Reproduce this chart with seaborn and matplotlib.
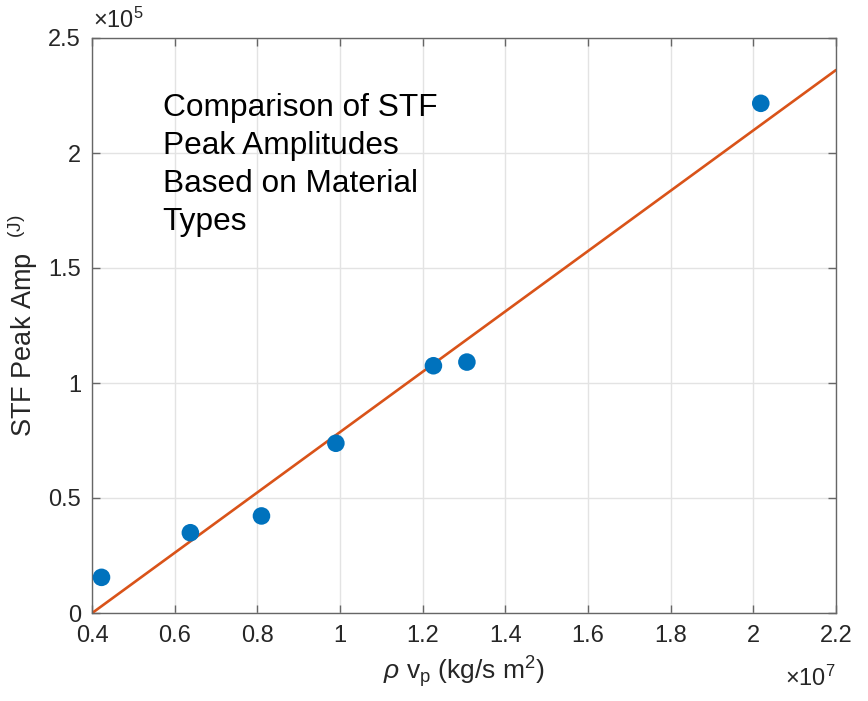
import matplotlib
matplotlib.use("Agg")
import matplotlib.pyplot as plt
import seaborn as sns
import pandas as pd
from matplotlib.ticker import FuncFormatter, FixedLocator

# Data (x: rho*vp in kg/(s m^2); y: STF peak amplitude in J)
impedance = [0.423e7, 0.638e7, 0.810e7, 0.990e7, 1.226e7, 1.307e7, 2.018e7]
peak_amp = [0.155e5, 0.349e5, 0.422e5, 0.738e5, 1.075e5, 1.091e5, 2.216e5]
x_ticks = [0.4, 0.6, 0.8, 1.0, 1.2, 1.4, 1.6, 1.8, 2.0, 2.2]
y_ticks = [0, 0.5, 1, 1.5, 2, 2.5]
annotation = "Comparison of STF\nPeak Amplitudes\nBased on Material\nTypes"

df = pd.DataFrame({"x": impedance, "y": peak_amp})

sns.set_theme(style="white")
plt.rcParams["font.family"] = ["Liberation Sans", "DejaVu Sans"]
plt.rcParams["mathtext.fontset"] = "custom"
plt.rcParams["mathtext.rm"] = "Liberation Sans"
plt.rcParams["mathtext.it"] = "Liberation Sans:italic"
plt.rcParams["mathtext.cal"] = "Liberation Sans"

fig = plt.figure(figsize=(8.68, 7.01), dpi=100)
ax = fig.add_axes([92 / 868, 1 - 613 / 701, (836 - 92) / 868, (613 - 38) / 701])

ax.set_xlim(0.4e7, 2.2e7)
ax.set_ylim(0, 2.5e5)

sns.regplot(data=df, x="x", y="y", ax=ax, ci=None, truncate=False,
            scatter_kws=dict(s=160, color="#0072BD", edgecolor="none",
                             alpha=1.0, zorder=3),
            line_kws=dict(color="#D95319", lw=1.9, zorder=2))

ax.set_xlim(0.4e7, 2.2e7)
ax.set_ylim(0, 2.5e5)

ax.xaxis.set_major_locator(FixedLocator([v * 1e7 for v in x_ticks]))
ax.yaxis.set_major_locator(FixedLocator([v * 1e5 for v in y_ticks]))
ax.xaxis.set_major_formatter(FuncFormatter(lambda v, p: f"{v / 1e7:g}"))
ax.yaxis.set_major_formatter(FuncFormatter(lambda v, p: f"{v / 1e5:g}"))

ax.grid(True, color="#e3e3e3", lw=1.0)
ax.set_axisbelow(True)
for s in ax.spines.values():
    s.set_color("#666666")
    s.set_linewidth(1.0)
ax.tick_params(direction="in", length=6, width=1.0, color="#666666",
               labelsize=17, labelcolor="#262626", top=True, right=True,
               bottom=True, left=True)
ax.tick_params(axis="x", pad=9)
ax.tick_params(axis="y", pad=8)

ax.set_xlabel(r"$\rho$ v$_\mathrm{p}$ (kg/s m$^2$)", fontsize=19,
              color="#262626", labelpad=5)
ax.set_ylabel(r"STF Peak Amp  $^{\mathrm{(J)}}$", fontsize=19.5,
              color="#262626", labelpad=6)

ax.text(0.002, 1.008, r"$\times$10$^5$", transform=ax.transAxes, fontsize=17,
        color="#262626", ha="left", va="bottom")
ax.text(1.0, -0.092, r"$\times$10$^7$", transform=ax.transAxes, fontsize=17,
        color="#262626", ha="right", va="top")

ax.text(0.095, 0.905, annotation, transform=ax.transAxes, fontsize=22.8,
        color="black", ha="left", va="top", linespacing=1.35)

fig.savefig("out.png", dpi=100)
